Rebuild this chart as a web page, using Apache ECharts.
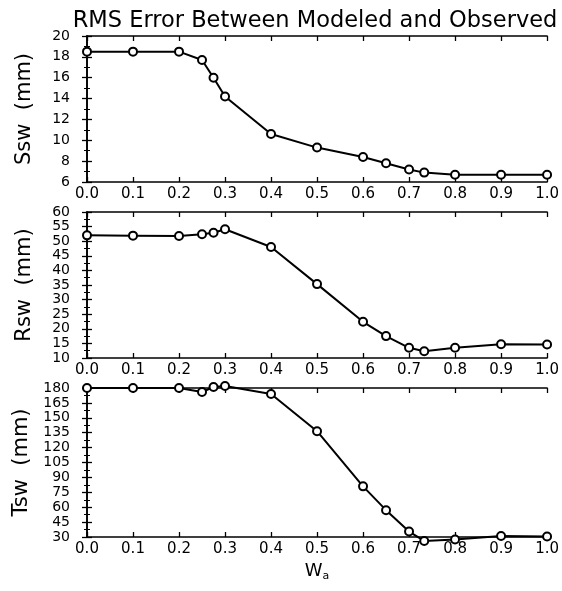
<!DOCTYPE html>
<html>
<head>
<meta charset="utf-8">
<script src="https://cdn.jsdelivr.net/npm/echarts@6/dist/echarts.min.js"></script>
<style>
  html, body { margin: 0; padding: 0; background: #fff; }
  #chart { width: 562px; height: 591px; }
</style>
</head>
<body>
<div id="chart"></div>
<script>
// weight W_a and RMS errors (mm)
var wa  = [0, 0.1, 0.2, 0.25, 0.275, 0.3, 0.4, 0.5, 0.6, 0.65, 0.7, 0.733, 0.8, 0.9, 1.0];
var ssw = [18.5, 18.5, 18.5, 17.7, 16.0, 14.2, 10.6, 9.3, 8.4, 7.8, 7.2, 6.9, 6.7, 6.7, 6.7];
var rsw = [52.0, 51.9, 51.8, 52.4, 52.9, 54.1, 48.0, 35.3, 22.4, 17.5, 13.5, 12.3, 13.5, 14.7, 14.6];
var tsw = [180, 180, 180, 176, 181, 182, 174, 136.5, 81, 57, 35.5, 26, 27.5, 31, 30.5];

var yNames = ['Ssw  (mm)', 'Rsw  (mm)', 'Tsw  (mm)'];
var yMin = [6, 10, 30];
var yMax = [20, 60, 180];
var yStep = [2, 5, 15];
var values = [ssw, rsw, tsw];

var fontFam = 'DejaVu Sans';
var grids = [
  { left: 87, right: 12, top: 36, height: 146 },
  { left: 87, right: 12, top: 212, height: 146 },
  { left: 87, right: 12, top: 388, height: 149 }
];

var xAxes = [], yAxes = [], series = [];
for (var i = 0; i < 3; i++) {
  // bottom x axis with labels
  xAxes.push({
    type: 'value', gridIndex: i, min: 0, max: 1, interval: 0.1,
    position: 'bottom',
    axisLine: { lineStyle: { color: '#000', width: 1.6 } },
    axisTick: { inside: true, length: 5, lineStyle: { color: '#000', width: 1.3 } },
    axisLabel: { color: '#000', fontSize: 15, fontFamily: fontFam, margin: 5,
      formatter: function (v) { return v.toFixed(1); } },
    splitLine: { show: false },
    name: i === 2 ? 'W{s|a}' : '',
    nameLocation: 'middle', nameGap: 24,
    nameTextStyle: { color: '#000', fontSize: 18, fontFamily: fontFam,
      rich: { s: { fontSize: 11, fontFamily: fontFam, color: '#000', padding: [10, 0, 0, 0] } } }
  });
  // top mirror
  xAxes.push({
    type: 'value', gridIndex: i, min: 0, max: 1, interval: 0.1,
    position: 'top',
    axisLine: { lineStyle: { color: '#000', width: 1.6 } },
    axisTick: { inside: true, length: 5, lineStyle: { color: '#000', width: 1.3 } },
    axisLabel: { show: false },
    splitLine: { show: false }
  });
  // left y axis with labels
  yAxes.push({
    type: 'value', gridIndex: i, min: yMin[i], max: yMax[i], interval: yStep[i],
    position: 'left',
    axisLine: { show: true, lineStyle: { color: '#000', width: 1.6 } },
    axisTick: { show: true, inside: true, length: 5, lineStyle: { color: '#000', width: 1.3 } },
    minorTick: { show: true, splitNumber: 2, length: 3, lineStyle: { color: '#000', width: 1 } },
    axisLabel: { color: '#000', fontSize: 14, fontFamily: fontFam, margin: 17 },
    splitLine: { show: false },
    name: yNames[i], nameLocation: 'middle', nameGap: 52,
    nameTextStyle: { color: '#000', fontSize: 21, fontFamily: fontFam }
  });
  // right mirror
  yAxes.push({
    type: 'value', gridIndex: i, min: yMin[i], max: yMax[i], interval: yStep[i],
    position: 'right',
    axisLine: { show: true, lineStyle: { color: '#000', width: 1.6 } },
    axisTick: { show: true, inside: true, length: 5, lineStyle: { color: '#000', width: 1.3 } },
    minorTick: { show: true, splitNumber: 2, length: 3, lineStyle: { color: '#000', width: 1 } },
    axisLabel: { show: false },
    splitLine: { show: false }
  });
  series.push({
    type: 'line',
    xAxisIndex: i * 2, yAxisIndex: i * 2,
    data: wa.map(function (x, k) { return [x, values[i][k]]; }),
    clip: false,
    symbol: 'circle', symbolSize: 8, showSymbol: true,
    lineStyle: { color: '#000', width: 2 },
    itemStyle: { color: '#fff', borderColor: '#000', borderWidth: 2 },
    animation: false
  });
}

var myChart = echarts.init(document.getElementById('chart'));
myChart.setOption({
  backgroundColor: '#fff',
  animation: false,
  title: {
    text: 'RMS Error Between Modeled and Observed',
    left: 310, top: 5, textAlign: 'center',
    textStyle: { color: '#000', fontSize: 22.5, fontWeight: 'normal', fontFamily: fontFam }
  },
  grid: grids,
  xAxis: xAxes,
  yAxis: yAxes,
  series: series
});
</script>
</body>
</html>
